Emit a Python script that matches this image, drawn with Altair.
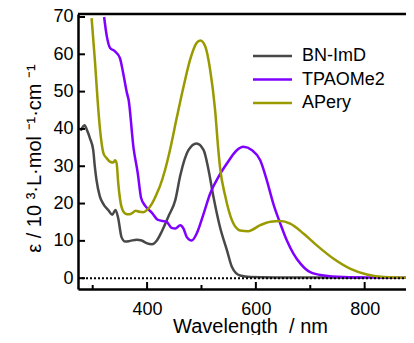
import altair as alt
import pandas as pd

# ---- data ----
bn_wl = [278, 285, 290, 295, 301, 304, 307, 313, 320, 329, 336, 342, 347, 353, 360, 369, 381, 390, 399,
         409, 418, 427, 440, 452, 461, 476, 491, 504, 513, 522, 534, 547, 556, 571, 590, 650, 720, 800]
bn_val = [39.5, 41.0, 39.5, 37.5, 34.3, 29.8, 26.3, 22.0, 19.8, 18.2, 17.0, 18.3, 16.0, 11.0, 9.8, 10.0,
          10.3, 10.1, 9.4, 9.1, 10.1, 12.5, 16.8, 21.0, 27.5, 34.3, 36.1, 34.3, 29.0, 21.8, 13.7, 7.4, 3.0,
          0.7, 0.3, 0.2, 0.15, 0.1]

tp_wl = [321, 326, 332, 341, 350, 356, 363, 366, 375, 383, 389, 397, 409, 420, 436, 445, 452, 461, 467,
         473, 482, 491, 504, 516, 531, 547, 565, 577, 593, 608, 620, 632, 645, 657, 669, 682, 700, 725,
         761, 820, 891]
tp_val = [70.0, 64.8, 61.7, 60.8, 59.0, 55.0, 49.6, 47.8, 35.0, 28.0, 21.5, 19.3, 17.5, 15.6, 15.1, 13.5,
          13.3, 14.2, 13.3, 11.0, 10.1, 11.9, 17.3, 22.7, 27.1, 30.8, 34.3, 35.2, 34.3, 31.6, 26.3, 20.0,
          14.6, 10.1, 6.6, 3.9, 1.6, 0.7, 0.3, 0.15, 0.1]

ap_wl = [298, 304, 309, 313, 320, 326, 332, 338, 341, 344, 347, 350, 353, 360, 366, 372, 379, 386, 393,
         400, 409, 418, 424, 433, 442, 455, 467, 479, 491, 498, 507, 516, 525, 531, 534, 544, 556, 571,
         586, 608, 627, 645, 663, 688, 712, 743, 774, 804, 835, 891]
ap_val = [69.7, 58.5, 47.8, 40.6, 33.4, 32.1, 31.2, 31.0, 31.6, 30.8, 25.4, 21.5, 19.1, 17.3, 17.1, 17.4,
          18.1, 17.8, 17.7, 18.3, 20.0, 22.7, 24.8, 29.0, 34.3, 43.3, 51.3, 58.5, 63.0, 63.7, 62.1, 55.8,
          45.1, 34.3, 29.8, 21.8, 15.5, 12.8, 12.6, 14.2, 15.1, 15.3, 14.6, 11.9, 8.8, 5.2, 2.5, 1.0, 0.3, 0.1]

series = ["BN-ImD", "TPAOMe2", "APery"]
colors = ["#484848", "#7F00FF", "#999900"]

y_ticks = [0, 10, 20, 30, 40, 50, 60, 70]
x_major = [400, 600, 800]
x_minor = [300, 500, 700]

W, H = 328, 275
FONT = "Liberation Sans"

rows = []
for name, wl, val in [(series[0], bn_wl, bn_val), (series[1], tp_wl, tp_val), (series[2], ap_wl, ap_val)]:
    for w, v in zip(wl, val):
        rows.append({"series": name, "wl": w, "eps": v})
df = pd.DataFrame(rows)

xs = alt.Scale(domain=[273, 876], nice=False, zero=False)
ys = alt.Scale(domain=[-2.9, 70.8], nice=False, zero=False)
cscale = alt.Scale(domain=series, range=colors)

x_axis = alt.Axis(
    values=x_major, ticks=False, grid=False, domainColor="black", domainWidth=2.5,
    labelFont=FONT, labelFontSize=18, labelColor="black", labelPadding=11,
    title="Wavelength\u00a0\u00a0/ nm", titleFont=FONT, titleFontSize=20, titleFontWeight="normal",
    titleColor="black", titleX=172, titleY=27, titleBaseline="top", titleAnchor="middle")
y_axis = alt.Axis(
    values=y_ticks, ticks=False, grid=False, domainColor="black", domainWidth=2.5,
    labelFont=FONT, labelFontSize=18, labelColor="black", labelPadding=5,
    title="ε / 10 ³·L·mol ⁻¹·cm ⁻¹", titleFont=FONT, titleFontSize=20, titleFontWeight="normal",
    titleColor="black", titleAngle=270, titleX=-44, titleY=144, titleAlign="center",
    titleBaseline="middle")

lines = alt.Chart(df).mark_line(strokeWidth=2.5, interpolate="monotone", clip=True).encode(
    x=alt.X("wl:Q", scale=xs, axis=x_axis),
    y=alt.Y("eps:Q", scale=ys, axis=y_axis),
    color=alt.Color("series:N", scale=cscale, legend=None),
    detail="series:N")

zero = alt.Chart(pd.DataFrame({"eps": [0]})).mark_rule(
    color="black", strokeDash=[2, 2], strokeWidth=2).encode(
    y=alt.Y("eps:Q", scale=ys, axis=y_axis), x=alt.value(0), x2=alt.value(W))

xmaj = alt.Chart(pd.DataFrame({"wl": x_major})).mark_rule(color="black", strokeWidth=2).encode(
    x=alt.X("wl:Q", scale=xs, axis=x_axis), y=alt.value(H), y2=alt.value(H - 7))
xmin = alt.Chart(pd.DataFrame({"wl": x_minor})).mark_rule(color="black", strokeWidth=2).encode(
    x=alt.X("wl:Q", scale=xs, axis=x_axis), y=alt.value(H), y2=alt.value(H - 4))
ytk = alt.Chart(pd.DataFrame({"eps": y_ticks})).mark_rule(color="black", strokeWidth=2).encode(
    y=alt.Y("eps:Q", scale=ys, axis=y_axis), x=alt.value(0), x2=alt.value(7))
top = alt.Chart(pd.DataFrame({"t": [0]})).mark_rule(color="black", strokeWidth=2.5).encode(
    y=alt.value(0), x=alt.value(0), x2=alt.value(W))

legend_layers = []
leg_y = [42, 65.5, 89]
for name, col, yy in zip(series, colors, leg_y):
    legend_layers.append(
        alt.Chart(pd.DataFrame({"s": [name]})).mark_rule(strokeWidth=2.5, color=col).encode(
            x=alt.value(175), x2=alt.value(214), y=alt.value(yy)))
    legend_layers.append(
        alt.Chart(pd.DataFrame({"s": [name]})).mark_text(
            align="left", baseline="middle", font=FONT, fontSize=18, color="black").encode(
            x=alt.value(224), y=alt.value(yy), text="s:N"))

chart = alt.layer(lines, zero, xmaj, xmin, ytk, top, *legend_layers).properties(
    width=W, height=H,
    autosize=alt.AutoSizeParams(type="none"),
    padding={"left": 70, "top": 6, "right": 0, "bottom": 46},
    background="white").configure_view(stroke=None)

chart.save("out.html", embed_options={"renderer": "svg", "actions": False})
